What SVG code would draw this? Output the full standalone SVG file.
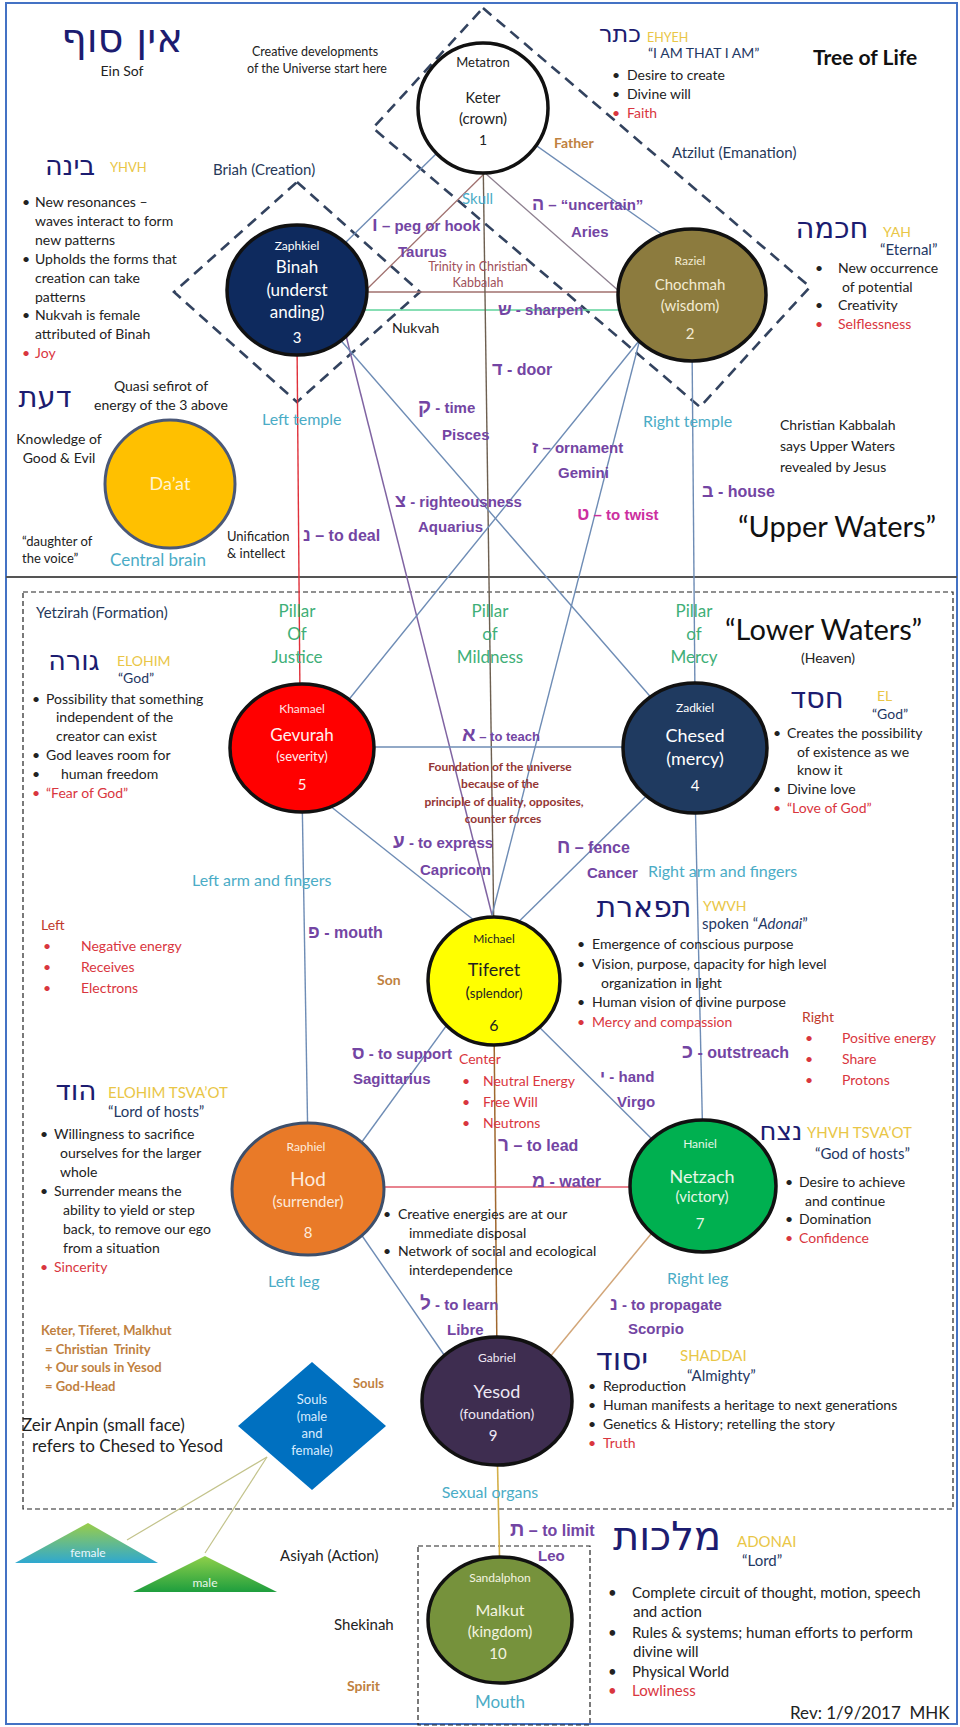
<svg xmlns="http://www.w3.org/2000/svg" width="960" height="1727" viewBox="0 0 960 1727">
<defs>
<linearGradient id="gf" x1="0" y1="0" x2="0" y2="1"><stop offset="0" stop-color="#9ACD48"/><stop offset="1" stop-color="#2FA8D0"/></linearGradient>
<linearGradient id="gm" x1="0" y1="0" x2="0" y2="1"><stop offset="0" stop-color="#8FD04A"/><stop offset="1" stop-color="#1E9E3E"/></linearGradient>
<style>
.he{font-family:"DejaVu Sans","Liberation Sans",sans-serif;fill:#1c1c70;text-anchor:middle}
.god{fill:#E9C646;font-size:14px}
.nv{fill:#1F3864;font-size:15px}
.rd{fill:#D9363E}
.wl{fill:#27395A;font-size:15px}
.pl{font-family:"Liberation Sans",Arial,sans-serif;font-weight:bold;font-size:15px;fill:#7345A3}
.cy{font-size:16px;fill:#4BACC6}
.gr{font-size:17px;fill:#3FAF78;text-anchor:middle}
.tan{font-weight:bold;font-size:13px;fill:#C0813F}
.fd{font-weight:bold;font-size:12px;fill:#943634;text-anchor:middle}
.nd{text-anchor:middle}
.ln{fill:none;stroke:#6E8CB5;stroke-width:1.4}
.dd{fill:none;stroke:#33435F;stroke-width:2.6;stroke-dasharray:11 7}
.dr{fill:none;stroke:#222;stroke-width:1.2;stroke-dasharray:5 3}
.nb{stroke:#111;stroke-width:3.5}
</style>
</defs>
<rect width="960" height="1727" fill="#fff"/>
<rect x="6" y="3" width="951" height="1721" fill="none" stroke="#4472C4" stroke-width="2"/>
<line x1="6" y1="577" x2="957" y2="577" stroke="#555" stroke-width="2"/>

<g id="worlds">
<path class="dd" d="M483,8 L810,287 L700,407 L373,128 Z"/>
<path class="dd" d="M297,182 L420,292 L297,402 L174,292 Z"/>
<rect class="dr" x="23" y="592" width="930" height="917"/>
<rect class="dr" x="418" y="1546" width="172" height="179"/>
</g>

<g id="connectors">
<line class="ln" x1="483" y1="108" x2="297" y2="290"/>
<line class="ln" x1="483" y1="108" x2="680" y2="247"/>
<line x1="486" y1="172" x2="364" y2="292" stroke="#A0706E" stroke-width="1.3"/>
<line x1="485" y1="173" x2="620" y2="292" stroke="#8E8090" stroke-width="1.3"/>
<line x1="340" y1="292" x2="640" y2="292" stroke="#A0706E" stroke-width="1.4"/>
<line x1="340" y1="310" x2="640" y2="310" stroke="#5FD39B" stroke-width="1.6"/>
<line x1="483" y1="150" x2="494" y2="940" stroke="#6D5F50" stroke-width="1.4"/>
<line x1="297" y1="340" x2="300" y2="700" stroke="#E0303A" stroke-width="1.4"/>
<line x1="337" y1="300" x2="492" y2="915" stroke="#8064A2" stroke-width="1.5"/>
<line class="ln" x1="297" y1="290" x2="695" y2="748"/>
<line class="ln" x1="660" y1="315" x2="304" y2="755"/>
<line class="ln" x1="650" y1="300" x2="492" y2="915"/>
<line class="ln" x1="692" y1="340" x2="695" y2="700"/>
<line class="ln" x1="350" y1="747" x2="650" y2="747"/>
<line class="ln" x1="310" y1="790" x2="480" y2="925"/>
<line class="ln" x1="695" y1="748" x2="490" y2="950"/>
<line class="ln" x1="302" y1="790" x2="308" y2="1150"/>
<line class="ln" x1="695" y1="790" x2="703" y2="1150"/>
<line class="ln" x1="460" y1="1007" x2="340" y2="1172"/>
<line class="ln" x1="520" y1="1008" x2="670" y2="1157"/>
<line x1="494" y1="1020" x2="497" y2="1360" stroke="#A0682F" stroke-width="1.5"/>
<line x1="384" y1="1187" x2="630" y2="1187" stroke="#E05A6A" stroke-width="1.6"/>
<line class="ln" x1="345" y1="1211" x2="460" y2="1378"/>
<line x1="665" y1="1217" x2="535" y2="1375" stroke="#D2A679" stroke-width="1.5"/>
<line x1="497" y1="1440" x2="500" y2="1580" stroke="#D4B04A" stroke-width="1.6"/>
<line x1="267" y1="1457" x2="127" y2="1540" stroke="#C3C38B" stroke-width="1.2"/>
<line x1="267" y1="1457" x2="205" y2="1553" stroke="#C3C38B" stroke-width="1.2"/>
</g>

<g font-family="Lato, 'Liberation Sans', sans-serif" font-size="14" fill="#222">
<g id="keter">
<ellipse cx="483" cy="108" rx="65" ry="65" fill="#fff" class="nb"/>
<text class="nd" x="483" y="67" font-size="13">Metatron</text>
<text class="nd" x="483" y="103" font-size="14.5">Keter</text>
<text class="nd" x="483" y="124" font-size="15">(crown)</text>
<text class="nd" x="483" y="145">1</text>
</g>
<g id="binah">
<ellipse cx="297" cy="290" rx="70" ry="65" fill="#0E2A5E" class="nb"/>
<text class="nd" x="297" y="250" font-size="12" fill="#fff">Zaphkiel</text>
<text class="nd" x="297" y="273" font-size="17" fill="#fff">Binah</text>
<text class="nd" x="297" y="296" font-size="17" fill="#fff">(underst</text>
<text class="nd" x="297" y="318" font-size="17" fill="#fff">anding)</text>
<text class="nd" x="297" y="343" font-size="15" fill="#fff">3</text>
</g>
<g id="chochmah">
<ellipse cx="692" cy="295" rx="74" ry="66" fill="#8C7B3E" class="nb"/>
<text class="nd" x="690" y="265" font-size="12" fill="#F3EBD3">Raziel</text>
<text class="nd" x="690" y="290" font-size="15" fill="#F3EBD3">Chochmah</text>
<text class="nd" x="690" y="311" font-size="15" fill="#F3EBD3">(wisdom)</text>
<text class="nd" x="690" y="339" font-size="15" fill="#F3EBD3">2</text>
</g>
<g id="daat">
<ellipse cx="170" cy="484" rx="65" ry="64" fill="#FFC000" stroke="#4A5878" stroke-width="3"/>
<text class="nd" x="170" y="490" font-size="18" fill="#FFF4D0">Da’at</text>
</g>
<g id="gevurah">
<ellipse cx="302" cy="748" rx="72" ry="64" fill="#FF0000" class="nb"/>
<text class="nd" x="302" y="713" font-size="12" fill="#FFE5E5">Khamael</text>
<text class="nd" x="302" y="741" font-size="17" fill="#FFF0F0">Gevurah</text>
<text class="nd" x="302" y="761" font-size="13" fill="#FFF0F0">(severity)</text>
<text class="nd" x="302" y="790" font-size="15" fill="#FFF0F0">5</text>
</g>
<g id="chesed">
<ellipse cx="695" cy="748" rx="72" ry="65" fill="#1F3A60" class="nb"/>
<text class="nd" x="695" y="712" font-size="12" fill="#fff">Zadkiel</text>
<text class="nd" x="695" y="742" font-size="18" fill="#fff">Chesed</text>
<text class="nd" x="695" y="765" font-size="18" fill="#fff">(mercy)</text>
<text class="nd" x="695" y="791" font-size="15" fill="#fff">4</text>
</g>
<g id="tiferet">
<ellipse cx="494" cy="981" rx="66" ry="64" fill="#FFFF00" class="nb"/>
<text class="nd" x="494" y="943" font-size="12">Michael</text>
<text class="nd" x="494" y="976" font-size="18">Tiferet</text>
<text class="nd" x="494" y="998"><tspan font-size="16">(</tspan><tspan font-size="13">splendor)</tspan></text>
<text class="nd" x="494" y="1031" font-size="16">6</text>
</g>
<g id="hod">
<ellipse cx="308" cy="1189" rx="76" ry="66" fill="#E97A28" stroke="#3D4F6B" stroke-width="3"/>
<text class="nd" x="306" y="1151" font-size="12" fill="#FDEBDD">Raphiel</text>
<text class="nd" x="308" y="1186" font-size="19" fill="#FDEBDD">Hod</text>
<text class="nd" x="308" y="1207" font-size="15" fill="#FDEBDD">(surrender)</text>
<text class="nd" x="308" y="1238" font-size="15" fill="#FDEBDD">8</text>
</g>
<g id="netzach">
<ellipse cx="703" cy="1186" rx="73" ry="66" fill="#00B050" class="nb"/>
<text class="nd" x="700" y="1148" font-size="12" fill="#E6F6E6">Haniel</text>
<text class="nd" x="702" y="1183" font-size="18" fill="#E6F6E6">Netzach</text>
<text class="nd" x="702" y="1202" font-size="15" fill="#E6F6E6">(victory)</text>
<text class="nd" x="700" y="1229" font-size="15" fill="#E6F6E6">7</text>
</g>
<g id="yesod">
<ellipse cx="497" cy="1401" rx="75" ry="64" fill="#3E2D50" class="nb"/>
<text class="nd" x="497" y="1362" font-size="12" fill="#EEE8F4">Gabriel</text>
<text class="nd" x="497" y="1398" font-size="18" fill="#EEE8F4">Yesod</text>
<text class="nd" x="497" y="1419" font-size="14" fill="#EEE8F4">(foundation)</text>
<text class="nd" x="493" y="1441" font-size="15" fill="#EEE8F4">9</text>
</g>
<g id="malkut">
<ellipse cx="500" cy="1620" rx="72" ry="63" fill="#76923C" class="nb"/>
<text class="nd" x="500" y="1582" font-size="12" fill="#F4F4E0">Sandalphon</text>
<text class="nd" x="500" y="1616" font-size="16" fill="#F4F4E0">Malkut</text>
<text class="nd" x="500" y="1637" font-size="15" fill="#F4F4E0">(kingdom)</text>
<text class="nd" x="498" y="1659" font-size="15" fill="#F4F4E0">10</text>
</g>
<g id="souls">
<polygon points="312,1362 386,1426 312,1490 238,1426" fill="#0070C0"/>
<text class="nd" x="312" y="1404" font-size="13" fill="#D8ECFF">Souls</text>
<text class="nd" x="312" y="1421" font-size="13" fill="#D8ECFF">(male</text>
<text class="nd" x="312" y="1438" font-size="13" fill="#D8ECFF">and</text>
<text class="nd" x="312" y="1455" font-size="13" fill="#D8ECFF">female)</text>
</g>
<g id="female">
<polygon points="88,1523 158,1563 15,1563" fill="url(#gf)"/>
<text class="nd" x="88" y="1557" font-size="12" fill="#EAF6FF">female</text>
</g>
<g id="male">
<polygon points="205,1556 277,1592 133,1592" fill="url(#gm)"/>
<text class="nd" x="205" y="1587" font-size="12" fill="#EAF6EA">male</text>
</g>

<g id="labels">
<text class="he" x="122" y="52" font-size="40">אין סוף</text>
<text class="nd" x="122" y="76">Ein Sof</text>
<text class="nd" x="315" y="56" font-size="12.5">Creative developments</text>
<text class="nd" x="317" y="73" font-size="12.5">of the Universe start here</text>

<text class="he" x="620" y="42" font-size="24">כתר</text>
<text class="god" x="647" y="42" style="font-size:12.5px">EHYEH</text>
<text class="nv" x="648" y="58" style="font-size:14px">“I AM THAT I AM”</text>
<text x="612" y="80">•</text><text x="627" y="80">Desire to create</text>
<text x="612" y="99">•</text><text x="627" y="99">Divine will</text>
<text class="rd" x="612" y="118">•</text><text class="rd" x="627" y="118">Faith</text>
<text x="813" y="65" font-size="21" font-weight="bold" fill="#111">Tree of Life</text>
<text class="tan" x="554" y="148" style="font-size:14px">Father</text>
<text class="wl" x="672" y="158">Atzilut (Emanation)</text>
<text class="wl" x="213" y="175">Briah (Creation)</text>

<text class="he" x="70" y="175" font-size="27">בינה</text>
<text class="god" x="110" y="172" style="font-size:13px">YHVH</text>
<text x="22" y="207">•</text><text x="35" y="207">New resonances –</text>
<text x="35" y="226">waves interact to form</text>
<text x="35" y="245">new patterns</text>
<text x="22" y="264">•</text><text x="35" y="264">Upholds the forms that</text>
<text x="35" y="283">creation can take</text>
<text x="35" y="302">patterns</text>
<text x="22" y="320">•</text><text x="35" y="320">Nukvah is female</text>
<text x="35" y="339">attributed of Binah</text>
<text class="rd" x="22" y="358">•</text><text class="rd" x="35" y="358">Joy</text>
<text x="392" y="333">Nukvah</text>
<text class="cy" x="462" y="204" style="font-size:15px">Skull</text>
<text class="pl" x="372" y="231"><tspan font-size="19">ו</tspan> – peg or hook</text>
<text class="pl" x="398" y="257">Taurus</text>
<text class="nd" x="478" y="271" font-size="12.5" fill="#A0505A">Trinity in Christian</text>
<text class="nd" x="478" y="287" font-size="12.5" fill="#A0505A">Kabbalah</text>
<text class="pl" x="532" y="210"><tspan font-size="18">ה</tspan> – “uncertain”</text>
<text class="pl" x="571" y="237">Aries</text>

<text class="he" x="832" y="238" font-size="29">חכמה</text>
<text class="god" x="883" y="237">YAH</text>
<text class="nv" x="880" y="255">“Eternal”</text>
<text x="815" y="273">•</text><text x="838" y="273">New occurrence</text>
<text x="842" y="292">of potential</text>
<text x="815" y="310">•</text><text x="838" y="310">Creativity</text>
<text class="rd" x="815" y="329">•</text><text class="rd" x="838" y="329">Selflessness</text>

<text class="pl" x="498" y="315"><tspan font-size="17">ש</tspan> - sharpen</text>
<text class="pl" x="492" y="375" style="font-size:16px"><tspan font-size="18">ד</tspan> - door</text>
<text class="pl" x="418" y="413"><tspan font-size="20">ק</tspan> - time</text>
<text class="pl" x="442" y="440">Pisces</text>
<text class="pl" x="532" y="453"><tspan font-size="17">ז</tspan> – ornament</text>
<text class="pl" x="558" y="478">Gemini</text>
<text class="pl" x="702" y="497" style="font-size:16px"><tspan font-size="18">ב</tspan> - house</text>
<text class="pl" x="395" y="507"><tspan font-size="18">צ</tspan> - righteousness</text>
<text class="pl" x="418" y="532">Aquarius</text>
<text class="pl" x="577" y="520" style="fill:#CC2FA0"><tspan font-size="18">ט</tspan> – to twist</text>
<text class="pl" x="303" y="541" style="font-size:16px"><tspan font-size="18">נ</tspan> – to deal</text>
<text class="cy" x="262" y="425">Left temple</text>
<text class="cy" x="643" y="427">Right temple</text>
<text x="780" y="430">Christian Kabbalah</text>
<text x="780" y="451">says Upper Waters</text>
<text x="780" y="472">revealed by Jesus</text>
<text x="738" y="537" font-size="29" fill="#111">“Upper Waters”</text>

<text class="he" x="45" y="407" font-size="29">דעת</text>
<text class="nd" x="161" y="391">Quasi sefirot of</text>
<text class="nd" x="161" y="410">energy of the 3 above</text>
<text class="nd" x="59" y="444">Knowledge of</text>
<text class="nd" x="59" y="463">Good &amp; Evil</text>
<text x="22" y="546" font-size="13">“daughter of</text>
<text x="22" y="563" font-size="13">the voice”</text>
<text class="cy" x="110" y="566" style="font-size:17px">Central brain</text>
<text x="227" y="541" font-size="13">Unification</text>
<text x="227" y="558" font-size="13">&amp; intellect</text>

<text class="wl" x="36" y="618">Yetzirah (Formation)</text>
<text class="gr" x="297" y="617">Pillar</text>
<text class="gr" x="297" y="640">Of</text>
<text class="gr" x="297" y="663">Justice</text>
<text class="gr" x="490" y="617">Pillar</text>
<text class="gr" x="490" y="640">of</text>
<text class="gr" x="490" y="663">Mildness</text>
<text class="gr" x="694" y="617">Pillar</text>
<text class="gr" x="694" y="640">of</text>
<text class="gr" x="694" y="663">Mercy</text>
<text x="725" y="640" font-size="29" fill="#111">“Lower Waters”</text>
<text class="nd" x="828" y="663">(Heaven)</text>

<text class="he" x="74" y="670" font-size="27">גורה</text>
<text class="god" x="117" y="666">ELOHIM</text>
<text class="nv" x="118" y="683" style="font-size:14px">“God”</text>
<text x="32" y="704">•</text><text x="46" y="704">Possibility that something</text>
<text x="56" y="722">independent of the</text>
<text x="56" y="741">creator can exist</text>
<text x="32" y="760">•</text><text x="46" y="760">God leaves room for</text>
<text x="32" y="779">•</text><text x="61" y="779">human freedom</text>
<text class="rd" x="32" y="798">•</text><text class="rd" x="46" y="798">“Fear of God”</text>

<text class="pl" x="462" y="741"><tspan font-size="20">א</tspan><tspan font-size="13"> – to teach</tspan></text>
<text class="fd" x="500" y="771">Foundation of the universe</text>
<text class="fd" x="500" y="788">because of the</text>
<text class="fd" x="504" y="806">principle of duality, opposites,</text>
<text class="fd" x="503" y="823">counter forces</text>

<text class="he" x="817" y="708" font-size="29">חסד</text>
<text class="god" x="877" y="701">EL</text>
<text class="nv" x="872" y="719" style="font-size:14px">“God”</text>
<text x="773" y="738">•</text><text x="787" y="738">Creates the possibility</text>
<text x="797" y="757">of existence as we</text>
<text x="797" y="775">know it</text>
<text x="773" y="794">•</text><text x="787" y="794">Divine love</text>
<text class="rd" x="773" y="813">•</text><text class="rd" x="787" y="813">“Love of God”</text>

<text class="pl" x="393" y="848"><tspan font-size="19">ע</tspan> - to express</text>
<text class="pl" x="420" y="875">Capricorn</text>
<text class="pl" x="557" y="853" style="font-size:16px"><tspan font-size="19">ח</tspan> – fence</text>
<text class="pl" x="587" y="878">Cancer</text>
<text class="cy" x="648" y="877">Right arm and fingers</text>
<text class="cy" x="192" y="886">Left arm and fingers</text>

<text x="41" y="930" fill="#C0392B">Left</text>
<text class="rd" x="43" y="951">•</text><text class="rd" x="81" y="951">Negative energy</text>
<text class="rd" x="43" y="972">•</text><text class="rd" x="81" y="972">Receives</text>
<text class="rd" x="43" y="993">•</text><text class="rd" x="81" y="993">Electrons</text>
<text class="pl" x="308" y="938" style="font-size:16px"><tspan font-size="18">פ</tspan> - mouth</text>
<text class="tan" x="377" y="985" style="font-size:14px">Son</text>

<text class="he" x="644" y="917" font-size="30">תפארת</text>
<text class="god" x="703" y="911">YWVH</text>
<text class="nv" x="702" y="929">spoken “<tspan font-style="italic">Adonai</tspan>”</text>
<text x="577" y="949">•</text><text x="592" y="949">Emergence of conscious purpose</text>
<text x="577" y="969">•</text><text x="592" y="969">Vision, purpose, capacity for high level</text>
<text x="601" y="988">organization in light</text>
<text x="577" y="1007">•</text><text x="592" y="1007">Human vision of divine purpose</text>
<text class="rd" x="577" y="1027">•</text><text class="rd" x="592" y="1027">Mercy and compassion</text>
<text x="802" y="1022" fill="#C0392B">Right</text>
<text class="rd" x="805" y="1043">•</text><text class="rd" x="842" y="1043">Positive energy</text>
<text class="rd" x="805" y="1064">•</text><text class="rd" x="842" y="1064">Share</text>
<text class="rd" x="805" y="1085">•</text><text class="rd" x="842" y="1085">Protons</text>
<text class="pl" x="682" y="1058" style="font-size:16px"><tspan font-size="20">כ</tspan> - outstreach</text>
<text class="pl" x="352" y="1059"><tspan font-size="18">ס</tspan> - to support</text>
<text class="pl" x="353" y="1084">Sagittarius</text>
<text class="rd" x="459" y="1064">Center</text>
<text class="rd" x="462" y="1086">•</text><text class="rd" x="483" y="1086">Neutral Energy</text>
<text class="rd" x="462" y="1107">•</text><text class="rd" x="483" y="1107">Free Will</text>
<text class="rd" x="462" y="1128">•</text><text class="rd" x="483" y="1128">Neutrons</text>
<text class="pl" x="600" y="1082"><tspan font-size="17">י</tspan> - hand</text>
<text class="pl" x="617" y="1107">Virgo</text>
<text class="pl" x="498" y="1151" style="font-size:16px"><tspan font-size="19">ר</tspan> – to lead</text>

<text class="he" x="76" y="1100" font-size="28">הוד</text>
<text class="god" x="108" y="1098" style="font-size:15px">ELOHIM TSVA’OT</text>
<text class="nv" x="108" y="1117">“Lord of hosts”</text>
<text x="40" y="1139">•</text><text x="54" y="1139">Willingness to sacrifice</text>
<text x="60" y="1158">ourselves for the larger</text>
<text x="60" y="1177">whole</text>
<text x="40" y="1196">•</text><text x="54" y="1196">Surrender means the</text>
<text x="63" y="1215">ability to yield or step</text>
<text x="63" y="1234">back, to remove our ego</text>
<text x="63" y="1253">from a situation</text>
<text class="rd" x="40" y="1272">•</text><text class="rd" x="54" y="1272">Sincerity</text>
<text class="pl" x="532" y="1187" style="font-size:16px"><tspan font-size="18">מ</tspan> - water</text>

<text class="he" x="781" y="1140" font-size="26">נצח</text>
<text class="god" x="807" y="1138" style="font-size:15px">YHVH TSVA’OT</text>
<text class="nv" x="815" y="1159">“God of hosts”</text>
<text x="785" y="1187">•</text><text x="799" y="1187">Desire to achieve</text>
<text x="805" y="1206">and continue</text>
<text x="785" y="1224">•</text><text x="799" y="1224">Domination</text>
<text class="rd" x="785" y="1243">•</text><text class="rd" x="799" y="1243">Confidence</text>
<text x="383" y="1219">•</text><text x="398" y="1219">Creative energies are at our</text>
<text x="409" y="1238">immediate disposal</text>
<text x="383" y="1256">•</text><text x="398" y="1256">Network of social and ecological</text>
<text x="409" y="1275">interdependence</text>
<text class="cy" x="268" y="1287">Left leg</text>
<text class="cy" x="667" y="1284">Right leg</text>
<text class="pl" x="420" y="1310"><tspan font-size="19">ל</tspan> - to learn</text>
<text class="pl" x="447" y="1335">Libre</text>
<text class="pl" x="610" y="1310"><tspan font-size="18">נ</tspan> - to propagate</text>
<text class="pl" x="628" y="1334">Scorpio</text>

<text class="tan" x="41" y="1335">Keter, Tiferet, Malkhut</text>
<text class="tan" x="45" y="1354" xml:space="preserve">= Christian  Trinity</text>
<text class="tan" x="45" y="1372">+ Our souls in Yesod</text>
<text class="tan" x="45" y="1391">= God-Head</text>
<text class="tan" x="353" y="1388">Souls</text>
<text x="22" y="1431" font-size="17">Zeir Anpin (small face)</text>
<text x="32" y="1452" font-size="17">refers to Chesed to Yesod</text>

<text class="he" x="622" y="1370" font-size="31">יסוד</text>
<text class="god" x="680" y="1361" style="font-size:15px">SHADDAI</text>
<text class="nv" x="687" y="1381">“Almighty”</text>
<text x="588" y="1391">•</text><text x="603" y="1391">Reproduction</text>
<text x="588" y="1410">•</text><text x="603" y="1410">Human manifests a heritage to next generations</text>
<text x="588" y="1429">•</text><text x="603" y="1429">Genetics &amp; History; retelling the story</text>
<text class="rd" x="588" y="1448">•</text><text class="rd" x="603" y="1448">Truth</text>
<text class="cy nd" x="490" y="1498">Sexual organs</text>

<text class="pl" x="510" y="1536" style="font-size:16px"><tspan font-size="20">ת</tspan> – to limit</text>
<text class="pl" x="538" y="1561">Leo</text>
<text class="he" x="667" y="1550" font-size="40">מלכות</text>
<text class="god" x="737" y="1547" style="font-size:15px">ADONAI</text>
<text class="nv" x="742" y="1566">“Lord”</text>
<text x="608" y="1598" font-size="15">•</text><text x="632" y="1598" font-size="15">Complete circuit of thought, motion, speech</text>
<text x="633" y="1617" font-size="15">and action</text>
<text x="608" y="1638" font-size="15">•</text><text x="632" y="1638" font-size="15">Rules &amp; systems; human efforts to perform</text>
<text x="633" y="1657" font-size="15">divine will</text>
<text x="608" y="1677" font-size="15">•</text><text x="632" y="1677" font-size="15">Physical World</text>
<text class="rd" x="608" y="1696" font-size="15">•</text><text class="rd" x="632" y="1696" font-size="15">Lowliness</text>
<text x="790" y="1719" font-size="17" xml:space="preserve">Rev: 1/9/2017  MHK</text>
<text x="280" y="1561" font-size="15">Asiyah (Action)</text>
<text x="334" y="1630" font-size="15">Shekinah</text>
<text class="tan" x="347" y="1691" style="font-size:14px">Spirit</text>
<text class="cy nd" x="500" y="1708" style="font-size:17px">Mouth</text>
</g>
</g>
</svg>
